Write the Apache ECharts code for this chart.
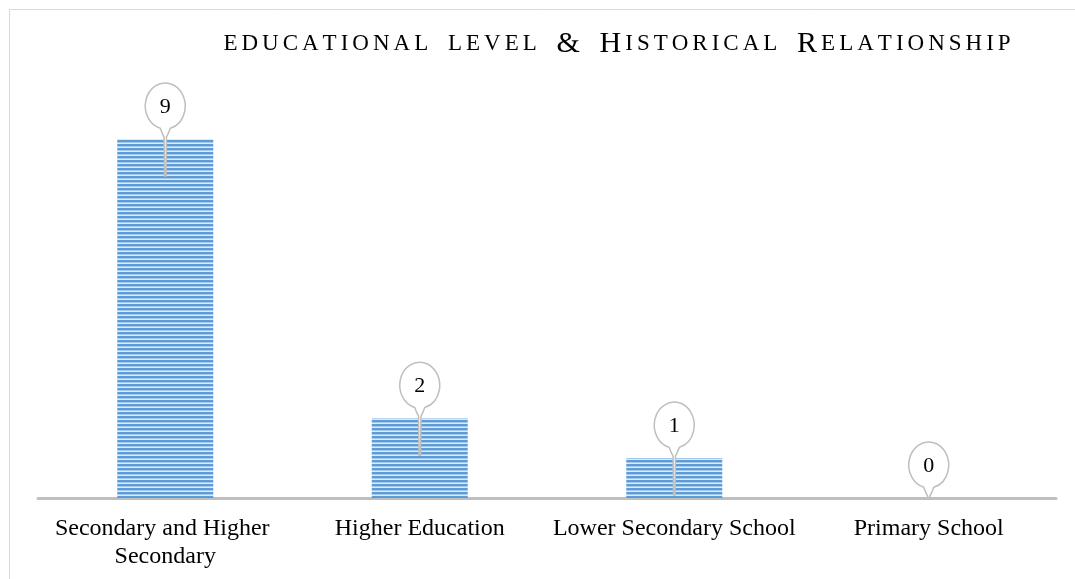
<!DOCTYPE html>
<html>
<head>
<meta charset="utf-8">
<script src="https://cdn.jsdelivr.net/npm/echarts@6/dist/echarts.min.js"></script>
<style>
  html, body { margin: 0; padding: 0; background: #fff; }
  #chart { width: 1075px; height: 579px; }
</style>
</head>
<body>
<div id="chart"></div>
<script>
const categories = ['Secondary and Higher Secondary', 'Higher Education', 'Lower Secondary School', 'Primary School']
const counts = [9, 2, 1, 0]
const titleText = 'educational level & Historical Relationship'

// horizontal stripe fill like the original bars
const stripe = document.createElement('canvas')
stripe.width = 8
stripe.height = 4
const sctx = stripe.getContext('2d')
const stripeRows = ['#5f9dd8', '#5b9bd5', '#a6c8ea', '#deebf7']
stripeRows.forEach((c, i) => {
  sctx.fillStyle = c
  sctx.fillRect(0, i, 8, 1)
})

const serif = '"Liberation Serif", "Times New Roman", serif'

// small caps title: lowercase -> small capitals, each letter spaced out
const smallCaps = (str) => str.split('').map(ch => {
  if (ch === ' ') return '{sp| }'
  if (ch === '&' || ch !== ch.toLowerCase()) return '{b|' + ch + '}'
  return '{s|' + ch.toUpperCase() + '}'
}).join('')

var myChart = echarts.init(document.getElementById('chart'))

// callout balloon above each bar
const renderCallout = (params, api) => {
  const idx = api.value(0)
  const val = api.value(1)
  const top = api.coord([idx, val])
  const base = api.coord([idx, 0])
  const cx = top[0]
  const cy = top[1] - 33
  const tip = Math.min(top[1] + 37, base[1])
  const rx = 20, ry = 23
  const nx = 5
  const ny = cy + ry * Math.sqrt(1 - (nx / rx) * (nx / rx))
  const mid = Math.min(cy + 31, tip - 2)
  const d = `M ${cx + nx} ${ny} Q ${cx + 3} ${mid - 3} ${cx + 1.2} ${mid} L ${cx + 0.7} ${tip} L ${cx - 0.7} ${tip} L ${cx - 1.2} ${mid} Q ${cx - 3} ${mid - 3} ${cx - nx} ${ny} A ${rx} ${ry} 0 1 1 ${cx + nx} ${ny} Z`
  return {
    type: 'group',
    children: [
      {
        type: 'path',
        shape: { pathData: d },
        style: { fill: '#fff', stroke: '#bfbfbf', lineWidth: 1.5 }
      },
      {
        type: 'text',
        style: {
          text: String(val),
          x: cx,
          y: cy + 1,
          align: 'center',
          verticalAlign: 'middle',
          font: '22px ' + serif,
          fill: '#000'
        }
      }
    ]
  }
}

var option = {
  animation: false,
  backgroundColor: '#fff',
  title: {
    text: smallCaps(titleText),
    left: 612,
    top: 24,
    textAlign: 'center',
    textStyle: {
      rich: {
        s: { fontFamily: serif, fontSize: 23, fontWeight: 'normal', color: '#000', padding: [0, 2, 0, 2] },
        b: { fontFamily: serif, fontSize: 30, fontWeight: 'normal', color: '#000', padding: [0, 2, 0, 2] },
        sp: { fontFamily: serif, fontSize: 23, fontWeight: 'normal', color: '#000', padding: [0, 5, 0, 5] }
      }
    }
  },
  graphic: [
    {
      type: 'rect',
      shape: { x: 9.5, y: 9.5, width: 1100, height: 600 },
      style: { fill: 'none', stroke: '#d9d9d9', lineWidth: 1 },
      silent: true
    }
  ],
  grid: {
    left: 38,
    right: 19,
    top: 139,
    bottom: 81
  },
  xAxis: {
    type: 'category',
    data: categories,
    axisLine: { lineStyle: { color: '#bfbfbf', width: 3 } },
    axisTick: { show: false },
    axisLabel: {
      interval: 0,
      margin: 17,
      width: 250,
      overflow: 'break',
      lineHeight: 28,
      fontFamily: serif,
      fontSize: 24,
      color: '#000'
    }
  },
  yAxis: {
    type: 'value',
    min: 0,
    max: 9,
    show: false,
    splitLine: { show: false }
  },
  series: [
    {
      type: 'bar',
      data: counts,
      barWidth: 96,
      itemStyle: { color: { image: stripe, repeat: 'repeat' } },
      z: 2
    },
    {
      type: 'custom',
      data: counts.map((v, i) => [i, v]),
      renderItem: renderCallout,
      z: 5
    }
  ]
}

myChart.setOption(option)
</script>
</body>
</html>
